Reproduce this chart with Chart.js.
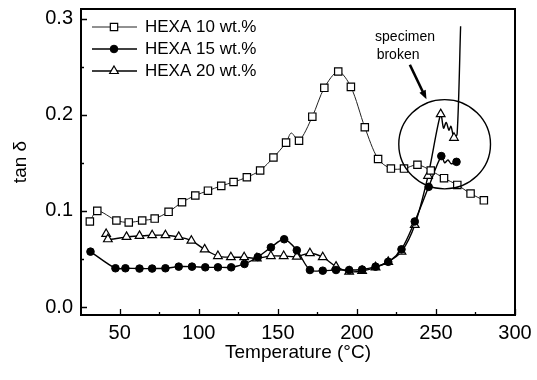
<!DOCTYPE html>
<html>
<head>
<meta charset="utf-8">
<script src="https://cdn.jsdelivr.net/npm/chart.js@4.4.0/dist/chart.umd.min.js"></script>
<style>
  html, body { margin: 0; padding: 0; background: #fff; }
  #wrap { width: 537px; height: 380px; }
</style>
</head>
<body>
<div id="wrap"><canvas id="dmaChart" width="537" height="380"></canvas></div>
<script>
// HEXA 10 wt.% (open squares)
const tempHexa10 = [31.1, 35.8, 47.9, 55.7, 64.2, 72.1, 80.9, 89.4, 97.8, 105.8, 114.2, 122.0, 130.4, 138.8, 147.2, 155.2, 158.5, 163.4, 171.8, 179.4, 188.2, 196.2, 205.0, 213.4, 221.5, 229.8, 238.3, 246.7, 255.1, 263.5, 271.9, 280.3];
const tanHexa10 = [0.089, 0.100, 0.090, 0.088, 0.090, 0.092, 0.099, 0.109, 0.116, 0.121, 0.126, 0.130, 0.135, 0.142, 0.1555, 0.171, 0.181, 0.173, 0.198, 0.228, 0.245, 0.229, 0.187, 0.154, 0.144, 0.144, 0.148, 0.142, 0.134, 0.127, 0.118, 0.111];
const bareHexa10 = [16]; // line only, no marker

// HEXA 15 wt.% (filled circles)
const tempHexa15 = [31.5, 47.3, 53.6, 62.5, 70.5, 78.9, 87.3, 95.7, 104.1, 112.1, 120.5, 128.9, 137.3, 145.6, 154.0, 162.0, 170.3, 178.4, 186.8, 195.1, 203.3, 211.8, 219.8, 228.2, 236.6, 245.4, 253.4, 255.5, 257.6, 259.7, 263.0];
const tanHexa15 = [0.0576, 0.0403, 0.0403, 0.040, 0.040, 0.0403, 0.042, 0.042, 0.0413, 0.0413, 0.0413, 0.0448, 0.052, 0.062, 0.0705, 0.059, 0.0385, 0.0378, 0.0385, 0.0385, 0.039, 0.042, 0.047, 0.060, 0.089, 0.125, 0.157, 0.150, 0.153, 0.149, 0.151];
const bareHexa15 = [27, 28, 29];

// HEXA 20 wt.% (open triangles)
const tempHexa20 = [41.4, 42.5, 54.3, 62.5, 70.5, 78.9, 87.3, 95.3, 103.7, 112.1, 120.3, 128.7, 136.7, 145.6, 153.7, 162.0, 170.3, 178.4, 186.8, 195.1, 203.3, 211.8, 219.8, 228.2, 236.6, 245.0, 253.0, 254.8, 256.5, 258.2, 259.5, 261.4, 263.4, 265.6];
const tanHexa20 = [0.076, 0.0705, 0.073, 0.074, 0.0747, 0.0747, 0.073, 0.069, 0.060, 0.053, 0.0518, 0.0518, 0.0507, 0.053, 0.053, 0.0524, 0.056, 0.0518, 0.042, 0.0368, 0.0375, 0.0413, 0.047, 0.0576, 0.0854, 0.1365, 0.2007, 0.186, 0.192, 0.184, 0.188, 0.176, 0.180, 0.292];
const bareHexa20 = [27, 28, 29, 30, 32, 33];

// axes
const xTicks = [50, 100, 150, 200, 250, 300];
const xMinorTicks = [75, 125, 175, 225, 275];
const yTicks = [0.0, 0.1, 0.2, 0.3];
const yMinorTicks = [0.05, 0.15, 0.25];

// "specimen broken" note, in data units
const noteLines = ['specimen', 'broken'];
const noteAt = [[211.5, 0.281], [212.5, 0.262]];
const arrowFrom = [233.5, 0.252];
const arrowTo = [244.0, 0.216];
const ringCenter = [255.5, 0.1693];
const ringRadius = [29.0, 0.0464];

const FONT = "'Liberation Sans', Arial, Helvetica, sans-serif";

function toPoints(xs, ys) {
    return xs.map((x, i) => ({ x: x, y: ys[i] }));
}

function markerSize(bare, size) {
    return ctx => bare.includes(ctx.dataIndex) ? 0 : size;
}

// inward tick marks and the closed frame
const frameAndTicks = {
    id: 'frameAndTicks',
    afterDatasetsDraw(chart) {
        const { ctx, chartArea: a, scales: { x, y } } = chart;
        ctx.save();
        ctx.strokeStyle = '#000';
        ctx.lineWidth = 1.3;
        ctx.beginPath();
        xTicks.forEach(v => {
            const px = Math.round(x.getPixelForValue(v)) + 0.5;
            ctx.moveTo(px, a.bottom); ctx.lineTo(px, a.bottom - 6);
        });
        xMinorTicks.forEach(v => {
            const px = Math.round(x.getPixelForValue(v)) + 0.5;
            ctx.moveTo(px, a.bottom); ctx.lineTo(px, a.bottom - 3);
        });
        yTicks.forEach(v => {
            const py = Math.round(y.getPixelForValue(v)) + 0.5;
            ctx.moveTo(a.left, py); ctx.lineTo(a.left + 6, py);
        });
        yMinorTicks.forEach(v => {
            const py = Math.round(y.getPixelForValue(v)) + 0.5;
            ctx.moveTo(a.left, py); ctx.lineTo(a.left + 3, py);
        });
        ctx.stroke();
        ctx.lineWidth = 2;
        ctx.strokeRect(a.left, a.top, a.right - a.left, a.bottom - a.top);
        ctx.restore();
    }
};

// ellipse, arrow and text marking the broken specimen
const brokenNote = {
    id: 'brokenNote',
    afterDatasetsDraw(chart) {
        const { ctx, scales: { x, y } } = chart;
        ctx.save();
        ctx.strokeStyle = '#000';
        ctx.fillStyle = '#000';

        const cx = x.getPixelForValue(ringCenter[0]);
        const cy = y.getPixelForValue(ringCenter[1]);
        const rx = x.getPixelForValue(ringCenter[0] + ringRadius[0]) - cx;
        const ry = cy - y.getPixelForValue(ringCenter[1] + ringRadius[1]);
        ctx.lineWidth = 1.4;
        ctx.beginPath();
        ctx.ellipse(cx, cy, rx, ry, 0, 0, Math.PI * 2);
        ctx.stroke();

        const x1 = x.getPixelForValue(arrowFrom[0]), y1 = y.getPixelForValue(arrowFrom[1]);
        const x2 = x.getPixelForValue(arrowTo[0]), y2 = y.getPixelForValue(arrowTo[1]);
        const ang = Math.atan2(y2 - y1, x2 - x1);
        ctx.lineWidth = 2.6;
        ctx.beginPath();
        ctx.moveTo(x1, y1);
        ctx.lineTo(x2 - 6 * Math.cos(ang), y2 - 6 * Math.sin(ang));
        ctx.stroke();
        ctx.beginPath();
        ctx.moveTo(x2, y2);
        ctx.lineTo(x2 - 9 * Math.cos(ang) + 3.5 * Math.sin(ang), y2 - 9 * Math.sin(ang) - 3.5 * Math.cos(ang));
        ctx.lineTo(x2 - 9 * Math.cos(ang) - 3.5 * Math.sin(ang), y2 - 9 * Math.sin(ang) + 3.5 * Math.cos(ang));
        ctx.closePath();
        ctx.fill();

        ctx.font = '14px ' + FONT;
        ctx.textBaseline = 'middle';
        ctx.textAlign = 'left';
        noteLines.forEach((t, i) => {
            ctx.fillText(t, x.getPixelForValue(noteAt[i][0]), y.getPixelForValue(noteAt[i][1]));
        });
        ctx.restore();
    }
};

// legend: short line with the marker in its middle, then the label
const lineLegend = {
    id: 'lineLegend',
    afterDraw(chart) {
        const { ctx } = chart;
        const rows = [27, 49, 71];
        const sizes = [5.2, 3.8, 5];
        ctx.save();
        ctx.font = '17px ' + FONT;
        ctx.textBaseline = 'middle';
        ctx.textAlign = 'left';
        chart.data.datasets.forEach((ds, i) => {
            const yRow = rows[i];
            ctx.strokeStyle = ds.borderColor;
            ctx.lineWidth = ds.borderWidth;
            ctx.beginPath();
            ctx.moveTo(92, yRow);
            ctx.lineTo(137, yRow);
            ctx.stroke();
            ctx.fillStyle = ds.pointBackgroundColor;
            ctx.strokeStyle = '#000';
            ctx.lineWidth = ds.pointBorderWidth;
            Chart.helpers.drawPoint(ctx, {
                pointStyle: ds.pointStyle,
                radius: sizes[i],
                rotation: 0,
                borderWidth: ds.pointBorderWidth
            }, 114, yRow);
            ctx.fillStyle = '#000';
            ctx.fillText(ds.label, 145, yRow);
        });
        ctx.restore();
    }
};

const ctxMain = document.getElementById('dmaChart').getContext('2d');

const dmaChart = new Chart(ctxMain, {
    type: 'scatter',
    data: {
        datasets: [{
            label: 'HEXA 10 wt.%',
            data: toPoints(tempHexa10, tanHexa10),
            showLine: true,
            borderColor: '#222',
            borderWidth: 1,
            tension: 0.3,
            pointStyle: 'rect',
            pointRadius: markerSize(bareHexa10, 5.2),
            pointBackgroundColor: '#fff',
            pointBorderColor: '#000',
            pointBorderWidth: 1.2
        }, {
            label: 'HEXA 15 wt.%',
            data: toPoints(tempHexa15, tanHexa15),
            showLine: true,
            borderColor: '#000',
            borderWidth: 1.4,
            tension: 0.3,
            pointStyle: 'circle',
            pointRadius: markerSize(bareHexa15, 3.8),
            pointBackgroundColor: '#000',
            pointBorderColor: '#000',
            pointBorderWidth: 1
        }, {
            label: 'HEXA 20 wt.%',
            data: toPoints(tempHexa20, tanHexa20),
            showLine: true,
            borderColor: '#000',
            borderWidth: 1.4,
            tension: 0.3,
            pointStyle: 'triangle',
            pointRadius: markerSize(bareHexa20, 5),
            pointBackgroundColor: '#fff',
            pointBorderColor: '#000',
            pointBorderWidth: 1.2
        }]
    },
    options: {
        responsive: false,
        animation: false,
        devicePixelRatio: 1,
        layout: {
            padding: { left: 0, right: 22, top: 9, bottom: 16 }
        },
        scales: {
            x: {
                type: 'linear',
                min: 25.5,
                max: 300,
                grid: { display: false, drawTicks: false },
                border: { display: false },
                afterBuildTicks: scale => {
                    scale.ticks = xTicks.map(v => ({ value: v }));
                },
                afterFit: scale => {
                    scale.height = 49;
                    scale.paddingLeft = 0;
                    scale.paddingRight = 0;
                },
                ticks: {
                    padding: 6,
                    maxRotation: 0,
                    color: '#000',
                    font: { family: FONT, size: 20 }
                },
                title: {
                    display: true,
                    text: 'Temperature (°C)',
                    color: '#000',
                    padding: { top: 0, bottom: 0 },
                    font: { family: FONT, size: 19 }
                }
            },
            y: {
                type: 'linear',
                min: -0.0083,
                max: 0.31,
                grid: { display: false, drawTicks: false },
                border: { display: false },
                afterBuildTicks: scale => {
                    scale.ticks = yTicks.map(v => ({ value: v }));
                },
                afterFit: scale => {
                    scale.width = 81;
                    scale.paddingTop = 0;
                    scale.paddingBottom = 0;
                },
                ticks: {
                    padding: 8,
                    color: '#000',
                    font: { family: FONT, size: 20 },
                    callback: v => v.toFixed(1)
                },
                title: {
                    display: true,
                    text: 'tan δ',
                    color: '#000',
                    padding: { top: 9, bottom: 0 },
                    font: { family: FONT, size: 19 }
                }
            }
        },
        plugins: {
            legend: { display: false },
            tooltip: { enabled: false }
        }
    },
    plugins: [frameAndTicks, brokenNote, lineLegend]
});
</script>
</body>
</html>
